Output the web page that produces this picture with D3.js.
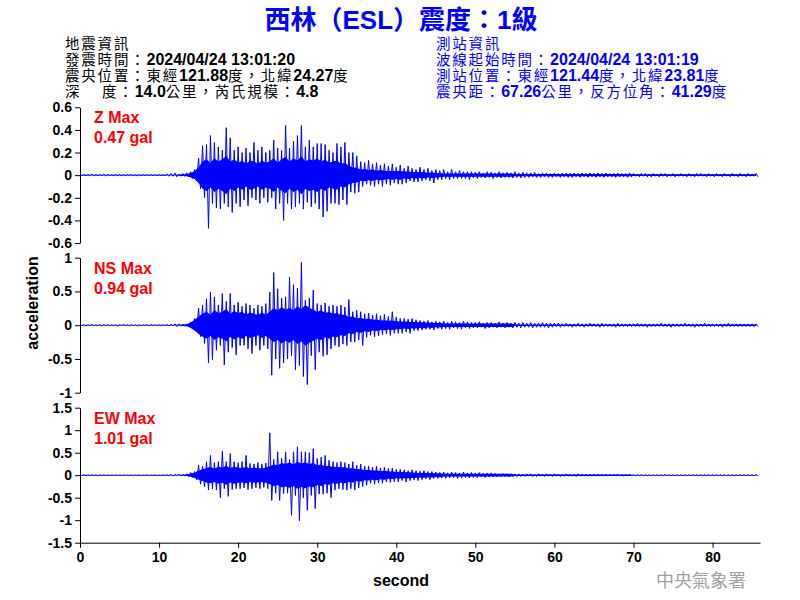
<!DOCTYPE html>
<html><head><meta charset="utf-8">
<script src="https://cdn.jsdelivr.net/npm/d3@7"></script>
<style>body{margin:0;background:#fff}svg{display:block}</style></head>
<body><svg id="chart" width="800" height="600"></svg>
<script>
// ---------- text ----------
const titleText = "西林（ESL）震度：1級";
const quakeInfo = ["地震資訊", "發震時間：2024/04/24 13:01:20", "震央位置：東經121.88度，北緯24.27度", "深\u3000 度：14.0公里，芮氏規模：4.8"];
const stationInfo = ["測站資訊", "波線起始時間：2024/04/24 13:01:19", "測站位置：東經121.44度，北緯23.81度", "震央距：67.26公里，反方位角：41.29度"];
const channelNames = ["Z Max", "NS Max", "EW Max"];
const peakLabels = ["0.47 gal", "0.94 gal", "1.01 gal"];
const yLabel = "acceleration";
const xLabel = "second";
const watermark = "中央氣象署";

// ---------- axes ----------
const xDomain = [0, 86];
const xTicks = [0, 10, 20, 30, 40, 50, 60, 70, 80];
const yDomains = [[-0.6, 0.6], [-1, 1], [-1.5, 1.5]];
const yTicks = [[-0.6, -0.4, -0.2, 0, 0.2, 0.4, 0.6], [-1, -0.5, 0, 0.5, 1], [-1.5, -1, -0.5, 0, 0.5, 1, 1.5]];

// ---------- waveform peaks, one bin every 0.5 s starting at 0 s ----------
const sampleStep = 0.5;
const zMax = [
0.005,0.004,0.006,0.01,0.005,0.004,0.008,0.005,0.004,0.006,
0.005,0.004,0.005,0.006,0.004,0.005,0.004,0.005,0.006,0.004,
0.005,0.004,0.01,0.015,0.02,0.01,0.015,0.02,0.03,0.05,
0.15,0.26,0.27,0.35,0.29,0.25,0.22,0.42,0.33,0.22,
0.25,0.2,0.24,0.2,0.29,0.22,0.25,0.2,0.22,0.31,
0.24,0.22,0.44,0.24,0.3,0.35,0.44,0.25,0.31,0.25,
0.28,0.28,0.27,0.22,0.2,0.28,0.25,0.29,0.2,0.2,
0.17,0.12,0.11,0.13,0.1,0.11,0.09,0.1,0.08,0.1,
0.07,0.09,0.06,0.08,0.06,0.05,0.07,0.05,0.06,0.04,
0.05,0.04,0.05,0.03,0.05,0.03,0.04,0.03,0.03,0.03,
0.025,0.03,0.02,0.03,0.025,0.02,0.03,0.02,0.025,0.02,
0.03,0.02,0.025,0.02,0.02,0.025,0.015,0.02,0.02,0.015,
0.02,0.015,0.02,0.02,0.015,0.02,0.015,0.02,0.015,0.02,
0.015,0.02,0.015,0.02,0.015,0.015,0.02,0.015,0.015,0.02,
0.015,0.01,0.015,0.015,0.01,0.015,0.01,0.015,0.015,0.01,
0.015,0.01,0.015,0.01,0.015,0.01,0.015,0.015,0.01,0.015,
0.01,0.015,0.01,0.015,0.01,0.015,0.01,0.015,0.01,0.015,
0.01,0.015];
const zMin = [
-0.004,-0.005,-0.004,-0.008,-0.004,-0.005,-0.006,-0.004,-0.005,-0.004,
-0.004,-0.005,-0.004,-0.005,-0.006,-0.004,-0.005,-0.004,-0.005,-0.004,
-0.004,-0.005,-0.01,-0.01,-0.015,-0.01,-0.01,-0.015,-0.03,-0.05,
-0.12,-0.2,-0.47,-0.25,-0.29,-0.3,-0.25,-0.28,-0.33,-0.25,
-0.28,-0.22,-0.27,-0.2,-0.22,-0.25,-0.2,-0.24,-0.2,-0.3,
-0.25,-0.4,-0.25,-0.3,-0.28,-0.25,-0.3,-0.24,-0.28,-0.25,
-0.3,-0.37,-0.32,-0.25,-0.25,-0.26,-0.22,-0.26,-0.15,-0.16,
-0.15,-0.1,-0.08,-0.09,-0.1,-0.08,-0.1,-0.08,-0.09,-0.07,
-0.08,-0.08,-0.07,-0.05,-0.06,-0.06,-0.05,-0.04,-0.05,-0.07,
-0.04,-0.04,-0.03,-0.04,-0.03,-0.03,-0.03,-0.03,-0.04,-0.025,
-0.03,-0.02,-0.025,-0.02,-0.03,-0.02,-0.025,-0.02,-0.02,-0.025,
-0.02,-0.025,-0.02,-0.02,-0.015,-0.02,-0.02,-0.015,-0.02,-0.02,
-0.015,-0.02,-0.015,-0.02,-0.02,-0.015,-0.02,-0.015,-0.02,-0.015,
-0.02,-0.015,-0.02,-0.015,-0.015,-0.02,-0.015,-0.015,-0.02,-0.015,
-0.01,-0.015,-0.01,-0.015,-0.015,-0.01,-0.015,-0.01,-0.015,-0.01,
-0.015,-0.01,-0.01,-0.015,-0.01,-0.015,-0.01,-0.01,-0.015,-0.01,
-0.015,-0.01,-0.015,-0.01,-0.015,-0.01,-0.015,-0.01,-0.015,-0.01,
-0.01,-0.015];
const nsMax = [
0.01,0.008,0.006,0.01,0.005,0.008,0.01,0.006,0.008,0.005,
0.006,0.01,0.005,0.008,0.006,0.005,0.008,0.006,0.01,0.005,
0.006,0.005,0.01,0.015,0.02,0.02,0.015,0.02,0.05,0.1,
0.25,0.3,0.39,0.49,0.42,0.3,0.47,0.35,0.47,0.3,
0.34,0.28,0.32,0.3,0.25,0.3,0.28,0.32,0.49,0.78,
0.54,0.4,0.42,0.71,0.6,0.55,0.93,0.37,0.4,0.52,
0.32,0.3,0.33,0.28,0.3,0.28,0.3,0.27,0.38,0.2,
0.22,0.2,0.17,0.18,0.15,0.17,0.14,0.16,0.13,0.2,
0.12,0.1,0.1,0.09,0.1,0.08,0.07,0.06,0.07,0.05,
0.06,0.05,0.06,0.04,0.06,0.05,0.04,0.06,0.05,0.04,
0.04,0.05,0.03,0.04,0.04,0.03,0.05,0.03,0.04,0.03,
0.04,0.03,0.04,0.03,0.04,0.03,0.03,0.04,0.03,0.03,
0.03,0.03,0.02,0.03,0.02,0.02,0.03,0.02,0.02,0.03,
0.02,0.02,0.03,0.02,0.02,0.02,0.03,0.02,0.02,0.02,
0.02,0.03,0.02,0.02,0.02,0.02,0.02,0.03,0.02,0.02,
0.02,0.02,0.02,0.03,0.02,0.02,0.02,0.02,0.03,0.02,
0.02,0.02,0.02,0.02,0.03,0.02,0.02,0.02,0.02,0.02,
0.02,0.02];
const nsMin = [
-0.006,-0.01,-0.005,-0.008,-0.006,-0.01,-0.005,-0.008,-0.006,-0.01,
-0.005,-0.006,-0.008,-0.005,-0.01,-0.006,-0.005,-0.008,-0.006,-0.005,
-0.005,-0.006,-0.01,-0.01,-0.02,-0.015,-0.015,-0.02,-0.04,-0.08,
-0.17,-0.27,-0.56,-0.51,-0.37,-0.3,-0.59,-0.4,-0.33,-0.44,
-0.3,-0.3,-0.35,-0.42,-0.3,-0.37,-0.3,-0.35,-0.74,-0.5,
-0.64,-0.56,-0.5,-0.45,-0.66,-0.6,-0.76,-0.88,-0.45,-0.66,
-0.4,-0.46,-0.44,-0.35,-0.3,-0.32,-0.28,-0.3,-0.25,-0.25,
-0.22,-0.3,-0.18,-0.15,-0.17,-0.16,-0.14,-0.13,-0.15,-0.12,
-0.12,-0.12,-0.1,-0.12,-0.08,-0.08,-0.07,-0.06,-0.06,-0.07,
-0.05,-0.06,-0.05,-0.06,-0.04,-0.05,-0.06,-0.04,-0.05,-0.04,
-0.04,-0.03,-0.05,-0.04,-0.03,-0.04,-0.03,-0.04,-0.03,-0.04,
-0.03,-0.04,-0.03,-0.03,-0.04,-0.03,-0.03,-0.03,-0.04,-0.03,
-0.02,-0.03,-0.02,-0.02,-0.03,-0.02,-0.02,-0.03,-0.02,-0.02,
-0.02,-0.03,-0.02,-0.02,-0.02,-0.03,-0.02,-0.02,-0.02,-0.02,
-0.02,-0.02,-0.02,-0.03,-0.02,-0.02,-0.02,-0.02,-0.02,-0.03,
-0.02,-0.02,-0.02,-0.02,-0.02,-0.03,-0.02,-0.02,-0.02,-0.02,
-0.02,-0.02,-0.03,-0.02,-0.02,-0.02,-0.02,-0.02,-0.02,-0.02,
-0.02,-0.02];
const ewMax = [
0.005,0.006,0.005,0.008,0.005,0.006,0.005,0.005,0.006,0.005,
0.005,0.006,0.005,0.005,0.006,0.005,0.005,0.006,0.005,0.005,
0.005,0.006,0.01,0.02,0.02,0.03,0.02,0.03,0.06,0.08,
0.22,0.2,0.3,0.44,0.28,0.3,0.53,0.3,0.48,0.3,
0.28,0.3,0.44,0.26,0.25,0.28,0.25,0.27,0.94,0.35,
0.52,0.37,0.52,0.35,0.52,0.63,0.52,0.52,0.5,0.59,
0.37,0.4,0.44,0.33,0.3,0.28,0.3,0.28,0.25,0.3,
0.22,0.25,0.2,0.2,0.18,0.2,0.16,0.18,0.15,0.16,
0.13,0.13,0.12,0.1,0.12,0.1,0.09,0.1,0.08,0.08,
0.07,0.06,0.07,0.05,0.07,0.06,0.05,0.07,0.05,0.06,
0.05,0.06,0.04,0.05,0.05,0.04,0.03,0.04,0.03,0.03,
0.03,0.03,0.02,0.03,0.03,0.02,0.03,0.02,0.03,0.02,
0.03,0.02,0.02,0.03,0.02,0.02,0.03,0.02,0.02,0.02,
0.02,0.02,0.01,0.015,0.01,0.01,0.015,0.01,0.01,0.01,
0.01,0.01,0.015,0.01,0.01,0.01,0.01,0.01,0.015,0.01,
0.01,0.01,0.01,0.01,0.01,0.015,0.01,0.01,0.01,0.01,
0.01,0.01,0.01,0.01,0.01,0.01,0.01,0.01,0.01,0.01,
0.01,0.01];
const ewMin = [
-0.005,-0.005,-0.006,-0.005,-0.01,-0.005,-0.005,-0.006,-0.005,-0.005,
-0.006,-0.005,-0.005,-0.005,-0.005,-0.006,-0.005,-0.005,-0.005,-0.006,
-0.005,-0.005,-0.01,-0.02,-0.01,-0.02,-0.02,-0.03,-0.05,-0.1,
-0.2,-0.26,-0.33,-0.3,-0.33,-0.5,-0.3,-0.47,-0.32,-0.3,
-0.3,-0.28,-0.32,-0.3,-0.28,-0.3,-0.27,-0.3,-0.56,-0.4,
-0.56,-0.41,-0.4,-0.89,-0.45,-1.01,-0.5,-0.78,-0.45,-0.74,
-0.42,-0.42,-0.4,-0.5,-0.33,-0.3,-0.32,-0.33,-0.3,-0.33,
-0.28,-0.25,-0.22,-0.18,-0.2,-0.17,-0.18,-0.15,-0.16,-0.14,
-0.15,-0.12,-0.15,-0.12,-0.1,-0.12,-0.1,-0.08,-0.1,-0.07,
-0.07,-0.06,-0.07,-0.06,-0.05,-0.07,-0.06,-0.05,-0.06,-0.05,
-0.05,-0.04,-0.05,-0.04,-0.04,-0.04,-0.03,-0.03,-0.04,-0.03,
-0.03,-0.03,-0.03,-0.02,-0.03,-0.03,-0.02,-0.03,-0.02,-0.03,
-0.02,-0.03,-0.02,-0.02,-0.02,-0.03,-0.02,-0.02,-0.02,-0.02,
-0.02,-0.01,-0.015,-0.01,-0.01,-0.01,-0.01,-0.015,-0.01,-0.01,
-0.01,-0.01,-0.01,-0.01,-0.015,-0.01,-0.01,-0.01,-0.01,-0.01,
-0.01,-0.01,-0.01,-0.01,-0.01,-0.01,-0.01,-0.01,-0.01,-0.01,
-0.01,-0.01,-0.01,-0.01,-0.01,-0.01,-0.01,-0.01,-0.01,-0.01,
-0.01,-0.01];

// ---------- dense-band half width (typical amplitude): 0-13.5 s quiet, 14-45.5 s detailed, 46-85.5 s tail ----------
const coreStep = 0.5;
const zCoreQuiet = [0.003,0.003,0.003,0.003,0.003,0.003,0.003,0.003,0.003,0.003,0.003,0.003,0.003,0.003,0.003,0.003,0.003,0.003,0.003,0.003,0.003,0.003,0.003,0.003,0.004,0.005,0.008,0.01];
const zCoreMain = [
0.02,0.035,0.07,0.12,0.14,0.11,0.15,0.12,
0.14,0.17,0.12,0.14,0.11,0.13,0.1,0.13,
0.12,0.1,0.13,0.11,0.12,0.15,0.11,0.14,
0.16,0.12,0.15,0.13,0.17,0.12,0.14,0.13,
0.15,0.12,0.14,0.11,0.12,0.13,0.1,0.11,
0.08,0.07,0.065,0.05,0.055,0.045,0.05,0.04,
0.045,0.04,0.035,0.04,0.035,0.04,0.03,0.035,
0.025,0.03,0.025,0.028,0.02,0.025,0.02,0.018];
const zCoreTail = [0.015,0.015,0.015,0.015,0.015,0.015,0.015,0.015,0.015,0.015,0.015,0.015,0.015,0.015,0.015,0.015,0.015,0.015,
0.01,0.01,0.01,0.01,0.01,0.01,0.01,0.01,0.01,0.01,0.01,0.01,0.01,0.01,0.01,0.01,0.01,0.01,0.01,0.01,0.01,0.01,0.01,0.01,0.01,0.01,0.01,0.01,0.01,0.01,
0.007,0.007,0.007,0.007,0.007,0.007,0.007,0.007,0.007,0.007,0.007,0.007,0.007,0.007,0.007,0.007,0.007,0.007,0.007,0.007,0.007,0.007,0.007,0.007,0.007,0.007,0.007,0.007,0.007,0.007,0.007,0.007];
const nsCoreQuiet = [0.004,0.004,0.004,0.004,0.004,0.004,0.004,0.004,0.004,0.004,0.004,0.004,0.004,0.004,0.004,0.004,0.004,0.004,0.004,0.004,0.004,0.004,0.004,0.004,0.005,0.006,0.01,0.015];
const nsCoreMain = [
0.04,0.08,0.13,0.17,0.2,0.16,0.22,0.18,
0.2,0.24,0.17,0.21,0.18,0.2,0.16,0.19,
0.17,0.15,0.19,0.16,0.2,0.25,0.22,0.27,
0.23,0.26,0.22,0.28,0.24,0.3,0.26,0.23,
0.2,0.22,0.18,0.2,0.17,0.18,0.15,0.16,
0.12,0.13,0.1,0.11,0.09,0.1,0.08,0.085,
0.07,0.075,0.065,0.07,0.06,0.055,0.05,0.055,
0.045,0.05,0.04,0.045,0.035,0.04,0.03,0.035];
const nsCoreTail = [0.025,0.025,0.025,0.025,0.025,0.025,0.025,0.025,0.025,0.025,0.025,0.025,0.025,0.025,0.025,0.025,0.025,0.025,
0.012,0.012,0.012,0.012,0.012,0.012,0.012,0.012,0.012,0.012,0.012,0.012,0.012,0.012,0.012,0.012,0.012,0.012,0.012,0.012,0.012,0.012,0.012,0.012,0.012,0.012,0.012,0.012,0.012,0.012,
0.01,0.01,0.01,0.01,0.01,0.01,0.01,0.01,0.01,0.01,0.01,0.01,0.01,0.01,0.01,0.01,0.01,0.01,0.01,0.01,0.01,0.01,0.01,0.01,0.01,0.01,0.01,0.01,0.01,0.01,0.01,0.01];
const ewCoreQuiet = [0.004,0.004,0.004,0.004,0.004,0.004,0.004,0.004,0.004,0.004,0.004,0.004,0.004,0.004,0.004,0.004,0.004,0.004,0.004,0.004,0.004,0.004,0.004,0.004,0.006,0.008,0.012,0.02];
const ewCoreMain = [
0.035,0.06,0.1,0.13,0.16,0.18,0.15,0.19,
0.17,0.21,0.16,0.19,0.17,0.16,0.18,0.15,
0.17,0.16,0.15,0.17,0.2,0.24,0.22,0.27,
0.25,0.28,0.24,0.3,0.26,0.29,0.25,0.27,
0.22,0.24,0.2,0.21,0.18,0.19,0.17,0.18,
0.15,0.16,0.13,0.14,0.11,0.12,0.1,0.11,
0.09,0.1,0.08,0.085,0.07,0.075,0.065,0.07,
0.06,0.055,0.05,0.055,0.045,0.05,0.04,0.045];
const ewCoreTail = [0.03,0.03,0.03,0.03,0.03,0.03,0.03,0.03,0.03,0.03,0.03,0.03,0.03,0.03,0.03,0.03,0.03,0.03,
0.015,0.015,0.015,0.015,0.015,0.015,0.015,0.015,0.015,0.015,0.015,0.015,0.015,0.015,0.015,0.015,0.015,0.015,0.015,0.015,0.015,0.015,0.015,0.015,0.015,0.015,0.015,0.015,0.015,0.015,
0.005,0.005,0.005,0.005,0.005,0.005,0.005,0.005,0.005,0.005,0.005,0.005,0.005,0.005,0.005,0.005,0.005,0.005,0.005,0.005,0.005,0.005,0.005,0.005,0.005,0.005,0.005,0.005,0.005,0.005,0.005,0.005];

const seriesMax = [zMax, nsMax, ewMax];
const seriesMin = [zMin, nsMin, ewMin];
const seriesCore = [
  zCoreQuiet.concat(zCoreMain, zCoreTail),
  nsCoreQuiet.concat(nsCoreMain, nsCoreTail),
  ewCoreQuiet.concat(ewCoreMain, ewCoreTail)];

// ---------- layout ----------
const svg = d3.select("#chart");
const LAT = "'Liberation Sans', Arial, Helvetica, sans-serif";
const CJK = "'Noto Sans CJK TC', 'Noto Sans CJK SC', sans-serif";
const WAVE = "#0000ff";
const plotLeft = 80, plotRight = 760;
const panelRanges = [[243, 107.3], [392.7, 257.7], [542.7, 407.7]];
const x = d3.scaleLinear().domain(xDomain).range([plotLeft, plotRight]);

function mixedText(parent, str, o) {
  const t = parent.append("text").attr("x", o.x).attr("y", o.y)
    .attr("fill", o.fill).attr("text-anchor", o.anchor || "start")
    .style("white-space", "pre");
  str.match(/[\x00-\x7F]+|[^\x00-\x7F]+/g).forEach(run => {
    const ascii = /^[\x00-\x7F]/.test(run);
    t.append("tspan").text(run)
      .attr("font-family", ascii ? LAT : CJK)
      .attr("font-weight", ascii ? "bold" : o.cjkWeight)
      .attr("font-size", ascii ? o.asciiSize : o.cjkSize)
      .attr("letter-spacing", ascii ? 0 : (o.cjkSpacing || 0));
  });
  return t;
}

// title
mixedText(svg, titleText, {x: 401, y: 29, fill: "#0000ff", anchor: "middle", asciiSize: 26, cjkSize: 26, cjkWeight: "bold"});

// header blocks
const headerStyle = {asciiSize: 16, cjkSize: 14.5, cjkSpacing: 1.8, cjkWeight: "normal"};
quakeInfo.forEach((s, i) => mixedText(svg, s, Object.assign({x: 65, y: 49 + i * 16, fill: "#000"}, headerStyle)));
stationInfo.forEach((s, i) => mixedText(svg, s, Object.assign({x: 436, y: 49 + i * 16, fill: "#0000ff"}, headerStyle)));

// panels
channelNames.forEach((name, p) => {
  const y = d3.scaleLinear().domain(yDomains[p]).range(panelRanges[p]);
  const g = svg.append("g");

  // dense band of typical amplitude
  const core = seriesCore[p].map((v, i) => [i * coreStep, v]);
  g.append("path").datum(core)
    .attr("d", d3.area().x(d => x(d[0])).y0(d => y(-d[1])).y1(d => y(d[1])))
    .attr("fill", WAVE).attr("stroke", "none");

  // spikes: alternating positive / negative peaks in each 0.5 s bin
  const pts = [];
  seriesMax[p].forEach((v, i) => {
    pts.push([i * sampleStep, seriesMax[p][i]]);
    pts.push([i * sampleStep + sampleStep / 2, seriesMin[p][i]]);
  });
  g.append("path").datum(pts)
    .attr("d", d3.line().x(d => x(d[0])).y(d => y(d[1])))
    .attr("fill", "none").attr("stroke", WAVE).attr("stroke-width", 1);

  // y axis
  const ya = g.append("g").attr("transform", `translate(${plotLeft},0)`)
    .call(d3.axisLeft(y).tickValues(yTicks[p]).tickFormat(d => String(d)).tickSize(5).tickSizeOuter(0).tickPadding(3));
  ya.selectAll("path,line").attr("stroke", "#000");
  ya.selectAll("text").attr("font-family", LAT).attr("font-weight", "bold").attr("font-size", 14).attr("fill", "#000");

  // labels
  const top = panelRanges[p][1];
  g.append("text").attr("x", 94).attr("y", top + 16).text(name)
    .attr("font-family", LAT).attr("font-weight", "bold").attr("font-size", 16).attr("fill", "#ff0000");
  g.append("text").attr("x", 94).attr("y", top + 36).text(peakLabels[p])
    .attr("font-family", LAT).attr("font-weight", "bold").attr("font-size", 16).attr("fill", "#ff0000");

  if (p === 2) {
    const xa = g.append("g").attr("transform", `translate(0,${panelRanges[p][0]})`)
      .call(d3.axisBottom(x).tickValues(xTicks).tickFormat(d => String(d)).tickSize(5).tickSizeOuter(0).tickPadding(4));
    xa.selectAll("path,line").attr("stroke", "#000");
    xa.selectAll("text").attr("font-family", LAT).attr("font-weight", "bold").attr("font-size", 14).attr("fill", "#000");
  }
});

// axis titles
svg.append("text").attr("transform", "translate(38,303) rotate(-90)").attr("text-anchor", "middle")
  .attr("font-family", LAT).attr("font-weight", "bold").attr("font-size", 16).attr("fill", "#000").text(yLabel);
svg.append("text").attr("x", 401).attr("y", 586).attr("text-anchor", "middle")
  .attr("font-family", LAT).attr("font-weight", "bold").attr("font-size", 16).attr("fill", "#000").text(xLabel);

// watermark
svg.append("text").attr("x", 656).attr("y", 587).text(watermark)
  .attr("font-family", CJK).attr("font-size", 18).attr("fill", "#a0a0a0");
</script></body></html>
